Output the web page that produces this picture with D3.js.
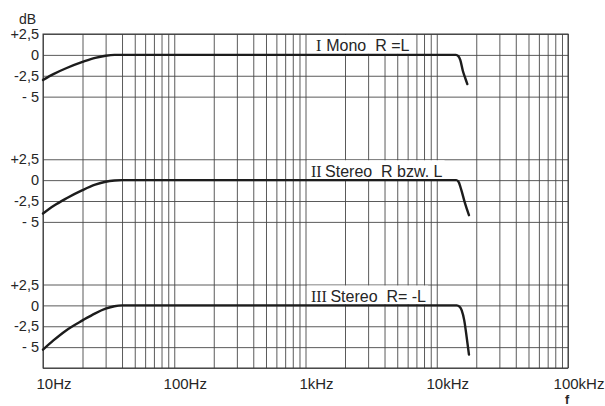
<!DOCTYPE html>
<html>
<head>
<meta charset="utf-8">
<script src="https://cdn.jsdelivr.net/npm/d3@7"></script>
<style>
  html, body { margin: 0; padding: 0; background: #fff; }
  svg { display: block; }
  text { font-family: "Liberation Sans", Arial, sans-serif; fill: #262626; }
</style>
</head>
<body>
<svg id="chart" width="605" height="406"></svg>
<script>
// Frequency axis (log) tick labels
const freqTicks = [10, 100, 1000, 10000, 100000];
const freqTickLabels = ["10Hz", "100Hz", "1kHz", "10kHz", "100kHz"];

// Level axis ticks, repeated for each of the three panels
const dbTicks = [2.5, 0, -2.5, -5];
const dbTickLabels = ["+2,5", "0", "-2,5", "- 5"];

// Panel captions: roman numeral + text
const panelNumerals = ["I", "II", "III"];
const panelTexts = ["Mono  R =L", "Stereo  R bzw. L", "Stereo  R= -L"];

// I  Mono R = L
const monoHz = [10, 12, 15, 20, 25, 30, 35, 1000, 14000, 14600, 15100, 15800, 16500, 17100];
const monoDb = [-3.0, -2.3, -1.6, -0.85, -0.35, -0.1, 0, 0, 0, -0.15, -0.6, -1.9, -2.8, -3.5];

// II Stereo R bzw. L
const stereoHz = [10, 12, 15, 20, 25, 30, 35, 40, 1000, 14100, 14700, 15400, 16300, 17000, 17600];
const stereoDb = [-4.0, -3.1, -2.2, -1.2, -0.55, -0.2, -0.05, 0, 0, 0, -0.25, -1.2, -2.6, -3.5, -4.2];

// III Stereo R = -L
const antiHz = [10, 12, 15, 20, 25, 30, 35, 40, 1000, 14200, 14900, 15500, 16200, 16900, 17600];
const antiDb = [-5.3, -4.2, -3.0, -1.8, -0.95, -0.4, -0.1, 0, 0, 0, -0.15, -0.6, -1.8, -3.8, -5.9];

const series = [
  { hz: monoHz, db: monoDb },
  { hz: stereoHz, db: stereoDb },
  { hz: antiHz, db: antiDb }
];

const svg = d3.select("#chart");

// plot frame
const plotLeft = 43, plotRight = 568, plotTop = 34, plotBottom = 368;
const rowH = (plotBottom - plotTop) / 16;   // one 2,5 dB row
const panelStep = 6 * rowH;                 // panels sit six rows apart

const x = d3.scaleLog().domain([10, 100000]).range([plotLeft, plotRight]);

const yScales = [0, 1, 2].map(i => {
  const t = plotTop + i * panelStep;
  return d3.scaleLinear().domain([2.5, -5]).range([t, t + 3 * rowH]);
});

const gridColor = "#474747";

// vertical grid: every 1..9 step of each decade, full height
const vGrid = svg.append("g")
  .attr("transform", `translate(0,${plotBottom})`)
  .call(d3.axisBottom(x).tickValues(x.ticks()).tickSize(-(plotBottom - plotTop)).tickFormat(""));
vGrid.select(".domain").remove();
vGrid.selectAll(".tick line").attr("stroke", gridColor).attr("stroke-width", 0.9);

// horizontal grid lines and level labels per panel
yScales.forEach((y, i) => {
  const vals = i === 2 ? dbTicks.concat([-7.5]) : dbTicks;
  const g = svg.append("g")
    .attr("transform", `translate(${plotLeft},0)`)
    .call(d3.axisLeft(y).tickValues(vals).tickSize(-(plotRight - plotLeft)).tickPadding(4)
      .tickFormat(d => {
        const k = dbTicks.indexOf(d);
        return k >= 0 ? dbTickLabels[k] : "";
      }));
  g.select(".domain").remove();
  g.selectAll(".tick line").attr("stroke", gridColor).attr("stroke-width", 0.9);
  g.selectAll(".tick text")
    .attr("font-size", 14.5)
    .attr("font-family", "Liberation Sans, Arial, sans-serif")
    .attr("fill", "#262626");
});

// frame edges
svg.append("rect")
  .attr("x", plotLeft).attr("y", plotTop)
  .attr("width", plotRight - plotLeft).attr("height", plotBottom - plotTop)
  .attr("fill", "none").attr("stroke", "#3a3a3a").attr("stroke-width", 1);

// frequency labels, set just right of their lines
const xAxis = svg.append("g")
  .attr("transform", `translate(0,${plotBottom})`)
  .call(d3.axisBottom(x).tickValues(freqTicks).tickSize(0)
    .tickFormat((d, i) => freqTickLabels[i]));
xAxis.select(".domain").remove();
xAxis.selectAll(".tick text")
  .attr("font-size", 15)
  .attr("font-family", "Liberation Sans, Arial, sans-serif")
  .attr("fill", "#262626")
  .attr("dx", 10.5)
  .attr("dy", 0)
  .attr("y", 21);

// unit labels
svg.append("text").attr("x", 27.5).attr("y", 24)
  .attr("text-anchor", "middle").attr("font-size", 14).text("dB");
svg.append("text").attr("x", 567).attr("y", 404)
  .attr("text-anchor", "middle").attr("font-size", 12.5).attr("font-weight", "bold").text("f");

// panel captions on white patches between +2,5 and 0
const captionHz = [1200, 1100, 1100];
const numeralGap = [5, 3.5, 3.5];
yScales.forEach((y, i) => {
  const g = svg.append("g");
  const bg = g.append("rect").attr("fill", "#fff");
  const t = g.append("text")
    .attr("x", x(captionHz[i]))
    .attr("y", y(0) - 3.5)
    .attr("font-size", 16)
    .attr("xml:space", "preserve");
  t.append("tspan")
    .attr("font-family", "Liberation Serif, 'DejaVu Serif', serif")
    .text(panelNumerals[i]);
  t.append("tspan").attr("dx", numeralGap[i]).text(panelTexts[i]);
  const bb = t.node().getBBox();
  bg.attr("x", bb.x - 4).attr("width", bb.width + 6)
    .attr("y", y(2.5) + 1).attr("height", y(0) - y(2.5) - 2);
});

// response curves
yScales.forEach((y, i) => {
  const s = series[i];
  const pts = s.hz.map((h, k) => [h, s.db[k]]);
  const line = d3.line()
    .x(d => x(d[0]))
    .y(d => y(d[1]))
    .curve(d3.curveMonotoneX);
  svg.append("path")
    .datum(pts)
    .attr("d", line)
    .attr("fill", "none")
    .attr("stroke", "#1c1c1c")
    .attr("stroke-width", 2.4)
    .attr("stroke-linecap", "round")
    .attr("stroke-linejoin", "round");
});
</script>
</body>
</html>
